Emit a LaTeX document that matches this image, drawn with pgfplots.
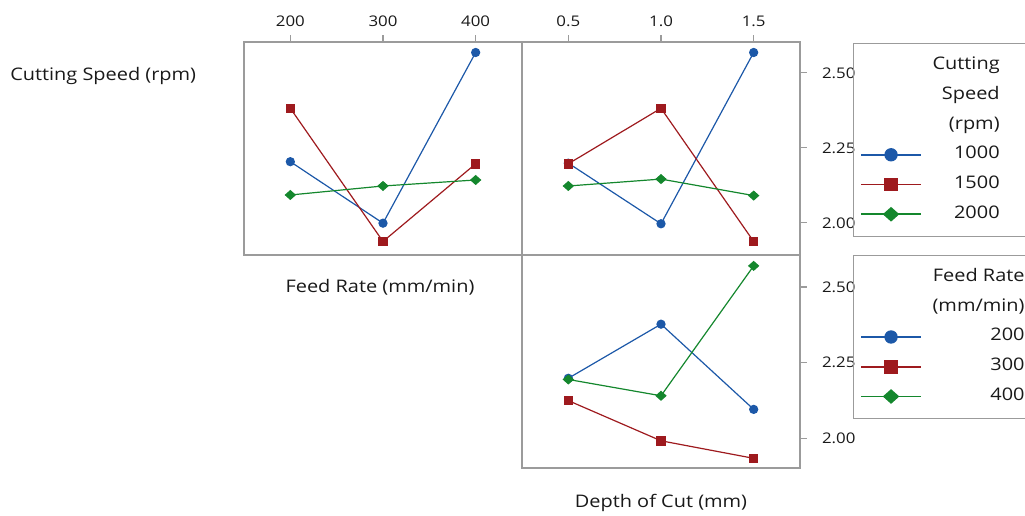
\documentclass[border=0pt]{standalone}
\usepackage{fontspec}
\setmainfont{Open Sans}[FakeStretch=1.15]
\usepackage{pgfplots}
\pgfplotsset{compat=1.18}
\definecolor{mblue}{RGB}{28,88,168}
\definecolor{mred}{RGB}{158,26,30}
\definecolor{mgreen}{RGB}{20,135,45}
\definecolor{frm}{RGB}{155,155,155}
\definecolor{txt}{RGB}{25,25,25}
\pgfplotsset{
  panel/.style={
    scale only axis, anchor=north west,
    width=208.5pt, height=159.75pt,
    axis line style={frm, line width=0.8pt},
    tick style={frm, line width=0.8pt},
    major tick length=5pt,
    tick align=outside,
    ticklabel style={font=\fontsize{11}{13}\selectfont, text=txt},
    /pgf/number format/assume math mode=true,
  },
  sA/.style={color=mblue, line width=0.9pt, mark=*, mark size=3pt},
  sB/.style={color=mred, line width=0.9pt, mark=square*, mark size=3.1pt},
  sC/.style={color=mgreen, line width=0.9pt, mark=diamond*, mark size=3.2pt, mark options={xscale=1.5}},
  legend image code/.code={\draw[line width=1.3pt, mark repeat=2, mark phase=2, every mark/.append style={scale=1.45}] plot coordinates {(0pt,0pt) (22.5pt,0pt) (45pt,0pt)};},
  lgs/.style={legend cell align=right,
    legend style={draw=frm, fill=none, line width=0.8pt, inner xsep=5pt, inner ysep=8pt, row sep=5.3pt,
      font=\fontsize{13}{15}\selectfont, text=txt,
      /tikz/every odd column/.append style={column sep=6pt},
      nodes={text height=9.5pt, text depth=3.5pt, inner ysep=2pt}, anchor=north west}},
}
\newcommand{\legtx}[1]{#1\hspace*{30pt}}
\begin{document}
\begin{tikzpicture}
\path[use as bounding box] (0pt,0pt) rectangle (768.75pt,387pt);
% top-left: Feed rate, by cutting speed
\begin{axis}[panel, at={(183pt,355.5pt)},
  xmin=150, xmax=450, ymin=1.893, ymax=2.603,
  xtick={200,300,400}, xticklabels={200,300,400},
  xtick pos=right, xticklabel pos=right,
  xticklabel style={yshift=3pt},
  ytick=\empty]
\addplot[sA] coordinates {(200,2.204) (300,1.999) (400,2.568)};
\addplot[sB] coordinates {(200,2.382) (300,1.938) (400,2.197)};
\addplot[sC] coordinates {(200,2.093) (300,2.123) (400,2.143)};
\end{axis}
% top-right: depth of cut, by cutting speed
\begin{axis}[panel, at={(391.5pt,355.5pt)},
  xmin=0.25, xmax=1.75, ymin=1.893, ymax=2.603,
  xtick={0.5,1.0,1.5}, xticklabels={0.5,1.0,1.5},
  xtick pos=right, xticklabel pos=right,
  xticklabel style={yshift=3pt},
  ytick={2.00,2.25,2.50}, yticklabels={2.00,2.25,2.50},
  ytick pos=right, yticklabel pos=right,
  yticklabel style={xshift=8pt},
  lgs, legend style={at={(1.1906,0.995)}}]
\addlegendimage{empty legend}\addlegendentry{\legtx{Cutting}}
\addlegendimage{empty legend}\addlegendentry{\legtx{Speed}}
\addlegendimage{empty legend}\addlegendentry{\legtx{(rpm)}}
\addplot[sA] coordinates {(0.5,2.199) (1.0,1.997) (1.5,2.568)};
\addlegendentry{\legtx{1000}}
\addplot[sB] coordinates {(0.5,2.197) (1.0,2.382) (1.5,1.938)};
\addlegendentry{\legtx{1500}}
\addplot[sC] coordinates {(0.5,2.123) (1.0,2.146) (1.5,2.091)};
\addlegendentry{\legtx{2000}}
\end{axis}
% bottom-right: depth of cut, by feed rate
\begin{axis}[panel, at={(391.5pt,195.75pt)},
  xmin=0.25, xmax=1.75, ymin=1.901, ymax=2.606,
  xtick=\empty,
  ytick={2.00,2.25,2.50}, yticklabels={2.00,2.25,2.50},
  ytick pos=right, yticklabel pos=right,
  yticklabel style={xshift=8pt},
  lgs, legend style={at={(1.1906,1.0)}}]
\addlegendimage{empty legend}\addlegendentry{\legtx{Feed Rate}}
\addlegendimage{empty legend}\addlegendentry{\legtx{(mm/min)}}
\addplot[sA] coordinates {(0.5,2.198) (1.0,2.377) (1.5,2.095)};
\addlegendentry{\legtx{200}}
\addplot[sB] coordinates {(0.5,2.124) (1.0,1.991) (1.5,1.933)};
\addlegendentry{\legtx{300}}
\addplot[sC] coordinates {(0.5,2.194) (1.0,2.140) (1.5,2.570)};
\addlegendentry{\legtx{400}}
\end{axis}
\node[anchor=west, text=txt, font=\fontsize{13}{15}\selectfont, inner sep=0pt] at (7.5pt,330pt) {Cutting Speed (rpm)};
\node[text=txt, font=\fontsize{13}{15}\selectfont, inner sep=0pt] at (285pt,171.75pt) {Feed Rate (mm/min)};
\node[text=txt, font=\fontsize{13}{15}\selectfont, inner sep=0pt] at (495.75pt,9.75pt) {Depth of Cut (mm)};
\end{tikzpicture}
\end{document}
